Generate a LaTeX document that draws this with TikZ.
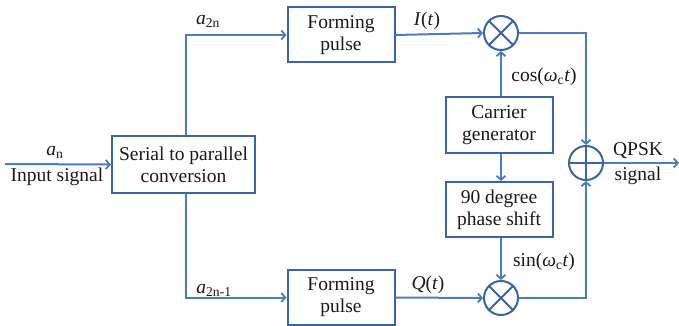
\documentclass[tikz,border=0pt]{standalone}
\usepackage{fontspec}
\setmainfont{Liberation Serif}
\usetikzlibrary{arrows.meta}
\definecolor{wire}{RGB}{74,124,190}
\definecolor{frame}{RGB}{58,100,164}
\newcommand{\sub}[1]{\textsubscript{#1}}
\begin{document}
\begin{tikzpicture}[x=1pt,y=-1pt,
  font=\fontsize{19.5}{22}\selectfont,
  blockbox/.style={draw=frame,line width=2pt,minimum width=107pt,minimum height=55pt,inner sep=0pt,align=center,text=black!90},
  opnode/.style={circle,draw=frame,line width=2pt,minimum size=34pt,inner sep=0pt},
  wireline/.style={draw=wire,line width=2pt},
  arr/.style={wireline,-{Straight Barb[length=4pt,width=9pt,line width=1.8pt]}},
  lbl/.style={text=black!90,inner sep=0pt}]
\useasboundingbox (0,0) rectangle (679,326);

% blocks
\node[blockbox,minimum width=143pt,minimum height=57pt] (sp) at (183.5,164.5) {Serial to parallel\\conversion};
\node[blockbox] (fp1) at (341,35) {Forming\\pulse};
\node[blockbox] (fp2) at (341,297.5) {Forming\\pulse};
\node[blockbox] (cg) at (499,125) {Carrier\\generator};
\node[blockbox] (ps) at (499,209.5) {90 degree\\phase shift};

% multipliers and adder
\node[opnode] (m1) at (501,33) {};
\node[opnode] (m2) at (501,298) {};
\node[opnode] (add) at (586,163) {};
\draw[wireline,draw=frame] (m1.north west) -- (m1.south east) (m1.north east) -- (m1.south west);
\draw[wireline,draw=frame] (m2.north west) -- (m2.south east) (m2.north east) -- (m2.south west);
\draw[wireline,draw=frame] (add.north) -- (add.south) (add.west) -- (add.east);

% free ends and branch point
\coordinate (in) at (5,164);
\coordinate (out) at (679,163);
\coordinate (br) at (186,0);

% connectors
\draw[arr] (in) -- (sp.west);
\draw[arr] (sp.north -| br) |- (fp1.west);
\draw[arr] (sp.south -| br) |- (fp2.west);
\draw[arr] (fp1.east) -- (m1.west);
\draw[arr] (fp2.east) -- (m2.west);
\draw[arr] (cg.north -| m1) -- (m1.south);
\draw[arr] (cg.south -| m1) -- (ps.north -| m1);
\draw[arr] (ps.south -| m1) -- (m2.north);
\draw[arr] (m1.east) -| (add.north);
\draw[arr] (m2.east) -| (add.south);
\draw[arr] (add.east) -- (out);

% labels
\node[lbl] (lan) at (55,152) {\textit{a}\sub{n}};
\node[lbl] (lin) at (57,177) {Input signal};
\node[lbl] (la2n) at (208,21) {\textit{a}\sub{2n}};
\node[lbl] (la2n1) at (214,290) {\textit{a}\sub{2n-1}};
\node[lbl] (lI) at (427,21) {\textit{I}(\textit{t})};
\node[lbl] (lQ) at (428,285) {\textit{Q}(\textit{t})};
\node[lbl] (lcos) at (544,77) {cos(\textit{ω}\sub{c}\textit{t})};
\node[lbl] (lsin) at (544,262) {sin(\textit{ω}\sub{c}\textit{t})};
\node[lbl] (lqp) at (638,151) {QPSK};
\node[lbl] (lsig) at (638,176) {signal};
\end{tikzpicture}
\end{document}
